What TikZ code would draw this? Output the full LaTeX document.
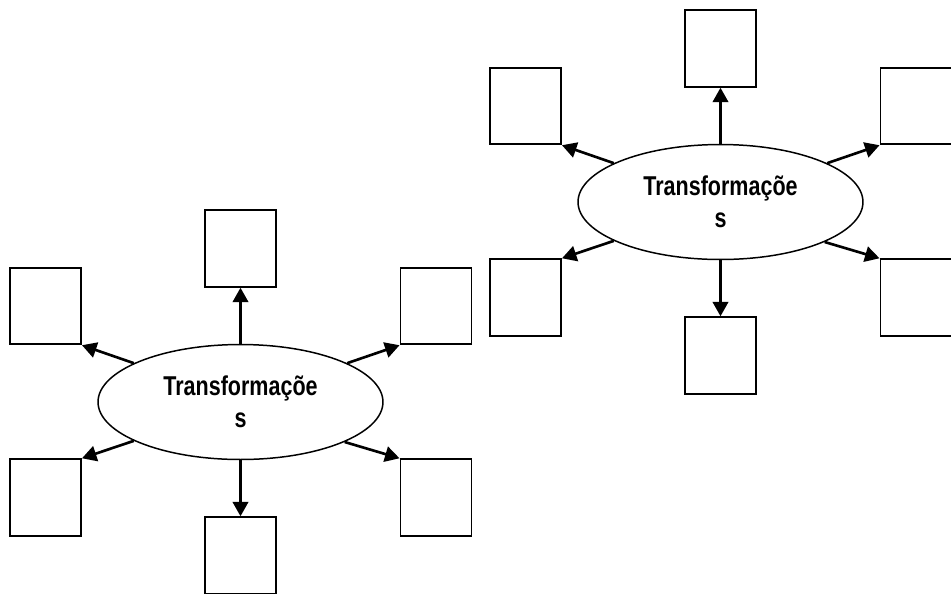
\documentclass[tikz,border=0pt]{standalone}
\usepackage{fontspec}
\newfontfamily\narrowsans[FakeStretch=0.79]{Liberation Sans}
\usetikzlibrary{shapes,arrows.meta}

\begin{document}
\begin{tikzpicture}[x=0.02cm,y=-0.02cm]
        \tikzstyle{ht}=[draw,line width=1.1pt,minimum width=1.42cm,minimum height=1.53cm,inner sep=0]
        \tikzstyle{blob}=[draw,ellipse,line width=0.85pt,minimum width=5.7cm,minimum height=2.3cm,inner sep=0,
            align=center,font=\narrowsans\bfseries\fontsize{15.5}{18.3}\selectfont]
        \tikzstyle{arr}=[line width=1.5pt,-{Triangle[length=0.29cm,width=0.31cm]}]

        \useasboundingbox (0,0) rectangle (951,593);
        \clip (0,0) rectangle (951,593);

        \foreach \d/\sx/\sy in {l/0/0, r/480/-200} {
        \begin{scope}[shift={(\sx,\sy)}]
            \node [blob] (\d_e) at (240.5,402) {Transformaçõe\\s};
            \node [ht] (\d_n) at (240.5,248.5) {};
            \node [ht] (\d_nw) at (45.5,306) {};
            \node [ht] (\d_ne) at (436,306) {};
            \node [ht] (\d_sw) at (45.5,497.5) {};
            \node [ht] (\d_se) at (436,497.5) {};
            \node [ht] (\d_s) at (240.5,555.5) {};

            \draw[arr] (\d_e.north) -- (\d_n.south);        % up
            \draw[arr] (\d_e.south) -- (\d_s.north);        % down
            \draw[arr] (\d_e.160) -- (\d_nw.south east);    % up left
            \draw[arr] (\d_e.20) -- (\d_ne.south west);     % up right
            \draw[arr] (\d_e.200) -- (\d_sw.north east);    % down left
            \draw[arr] (\d_e.339) -- (\d_se.north west);    % down right
        \end{scope}
        }

\end{tikzpicture}
\end{document}
